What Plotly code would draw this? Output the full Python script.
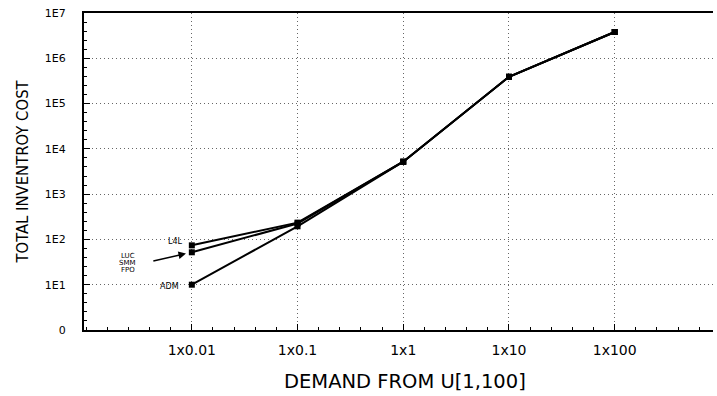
import numpy as np
import plotly.graph_objects as go

# ---- data ----
demand = [0.01, 0.1, 1, 10, 100]
demand_ticktext = ["1x0.01", "1x0.1", "1x1", "1x10", "1x100"]

cost_l4l = [74, 235, 5200, 390000, 3800000]
cost_luc = [52, 225, 5200, 390000, 3800000]
cost_adm = [10, 195, 5200, 390000, 3800000]

cost_tickvals = [1, 10, 100, 1000, 10000, 100000, 1000000, 10000000]
cost_ticktext = ["0", "1E1", "1E2", "1E3", "1E4", "1E5", "1E6", "1E7"]

X_RANGE = [-3.02, 2.93]   # log10 decades
Y_RANGE = [0, 7]

fig = go.Figure()
for name, vals in [("L4L", cost_l4l), ("LUC/SMM/FPO", cost_luc), ("ADM", cost_adm)]:
    fig.add_trace(go.Scatter(
        x=demand, y=vals, mode="lines+markers", name=name,
        line=dict(color="black", width=2),
        marker=dict(symbol="square", size=6, color="black"),
        showlegend=False,
    ))

# invisible copy on the overlaid linear (log10) axes so that their minor ticks are drawn
fig.add_trace(go.Scatter(
    x=np.log10(demand), y=np.log10(cost_adm), xaxis="x2", yaxis="y2",
    mode="lines", line=dict(color="rgba(0,0,0,0)"), hoverinfo="skip", showlegend=False,
))

lab_font = dict(family="DejaVu Sans", size=8, color="black")
lx = np.log10(demand[0])
fig.add_annotation(x=lx, y=np.log10(cost_l4l[0]), xref="x", yref="y", text="L4L",
                   showarrow=False, xanchor="right", yanchor="middle",
                   xshift=-7, yshift=4, font=lab_font)
fig.add_annotation(x=lx, y=np.log10(cost_adm[0]), xref="x", yref="y", text="ADM",
                   showarrow=False, xanchor="right", yanchor="middle",
                   xshift=-11, yshift=-2, font=lab_font)
for i, t in enumerate(["LUC", "SMM", "FPO"]):
    fig.add_annotation(x=lx, y=np.log10(cost_luc[0]), xref="x", yref="y", text=t,
                       showarrow=False, xanchor="center", yanchor="middle",
                       xshift=-64, yshift=-4 - 7 * i,
                       font=dict(family="DejaVu Sans", size=7, color="black"))
fig.add_annotation(x=lx, y=np.log10(cost_luc[0]), xref="x", yref="y", text="",
                   showarrow=True, ax=-40, ay=9, axref="pixel", ayref="pixel",
                   arrowhead=2, arrowsize=1, arrowwidth=1.5, arrowcolor="black",
                   standoff=6)

fig.add_annotation(x=0.51, y=0, xref="paper", yref="paper",
                   text="DEMAND FROM U[1,100]", showarrow=False,
                   xanchor="center", yanchor="middle", yshift=-51,
                   font=dict(family="DejaVu Sans", size=19.5, color="black"))

grid = dict(showgrid=True, gridcolor="#666666", gridwidth=1, griddash="1px,3px")

fig.update_layout(
    width=717, height=396,
    margin=dict(l=84, r=4, t=13, b=66),
    paper_bgcolor="white", plot_bgcolor="white",
    xaxis=dict(
        type="log", range=X_RANGE, automargin=False,
        tickvals=demand, ticktext=demand_ticktext,
        ticks="inside", ticklen=6, tickcolor="black", tickwidth=1,
        ticklabelstandoff=6,
        tickfont=dict(family="DejaVu Sans", size=14, color="black"),
        showline=True, linecolor="black", linewidth=2, mirror=True,
        zeroline=False, **grid,
    ),
    yaxis=dict(
        type="log", range=Y_RANGE, automargin=False,
        tickvals=cost_tickvals, ticktext=cost_ticktext,
        ticks="inside", ticklen=6, tickcolor="black", tickwidth=1,
        ticklabelstandoff=14,
        tickfont=dict(family="DejaVu Sans", size=11, color="black"),
        showline=True, linecolor="black", linewidth=2, mirror=False,
        title=dict(text="TOTAL INVENTROY COST", standoff=12,
                   font=dict(family="Liberation Sans Narrow, Arial Narrow, DejaVu Sans Condensed",
                             size=16.5, color="black")),
        zeroline=False, **grid,
    ),
    # overlaid linear axes carrying only the small evenly spaced minor ticks
    xaxis2=dict(
        overlaying="x", anchor="y2", side="bottom", range=X_RANGE, automargin=False,
        tick0=0, dtick=0.2, ticks="inside", ticklen=3, tickcolor="black",
        showticklabels=False, showgrid=False, showline=False, zeroline=False,
    ),
    yaxis2=dict(
        overlaying="y", anchor="x2", side="left", range=Y_RANGE, automargin=False,
        tick0=0, dtick=0.2, ticks="inside", ticklen=3, tickcolor="black",
        showticklabels=False, showgrid=False, showline=False, zeroline=False,
    ),
)

fig.write_html("out.html",
               config={"displayModeBar": False},
               post_script="document.body.style.margin='0';document.body.style.overflow='hidden';")
